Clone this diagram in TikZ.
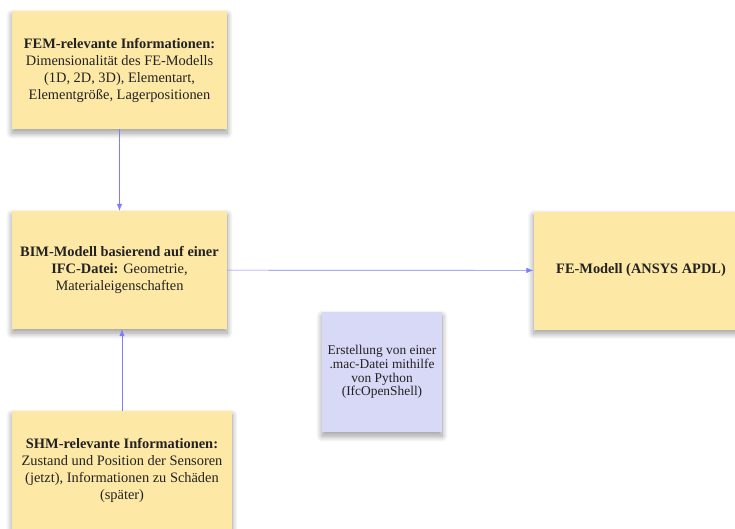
\documentclass[tikz,border=0pt]{standalone}
\usepackage{fontspec}
\setmainfont{Liberation Serif}
\usepackage{tikz}
\usetikzlibrary{arrows.meta,shadows.blur}

\definecolor{notefill}{RGB}{253,232,166}
\definecolor{memofill}{RGB}{216,216,247}
\definecolor{linkblue}{RGB}{125,125,255}
\definecolor{textgray}{RGB}{34,34,34}

\begin{document}
\begin{tikzpicture}[x=1pt, y=-1pt, font=\fontsize{14.4}{17}\selectfont,
	main/.style = {fill=notefill, text=textgray, align=center, minimum width=215pt, minimum height=118pt,
		blur shadow={shadow xshift=0pt, shadow yshift=-4pt, shadow blur radius=6pt, shadow blur steps=12, shadow opacity=40}},
	memo/.style = {main, fill=memofill, minimum width=120pt, minimum height=120pt, font=\fontsize{13.4}{13.8}\selectfont},
	link/.style = {draw=linkblue, line width=0.7pt, -{Latex[length=7pt, width=5.5pt]}}]
		\useasboundingbox (0,0) rectangle (735,528);

		\node[main] (fem) at (119.5,70) {\textbf{FEM-relevante Informationen:}\\ Dimensionalität des FE-Modells\\ (1D, 2D, 3D), Elementart,\\ Elementgröße, Lagerpositionen};
		\node[main] (bim) at (119.5,270) {\textbf{BIM-Modell basierend auf einer}\\ \textbf{IFC-Datei:} Geometrie,\\ Materialeigenschaften};
		\node[main, minimum width=220pt] (shm) at (122,470) {\textbf{SHM-relevante Informationen:}\\ Zustand und Position der Sensoren\\ (jetzt), Informationen zu Schäden\\ (später)};
		\node[main] (fe) at (641,270.5) {\textbf{FE-Modell (ANSYS APDL)}};
		\node[memo] (py) at (382,372) {Erstellung von einer\\ .mac-Datei mithilfe\\ von Python\\ (IfcOpenShell)};

		\draw[link] (fem) -- (bim);
		\draw[link] (shm.north) -- (shm.north |- bim.south);
		\draw[link] (bim) -- (fe);
	\end{tikzpicture}
\end{document}
